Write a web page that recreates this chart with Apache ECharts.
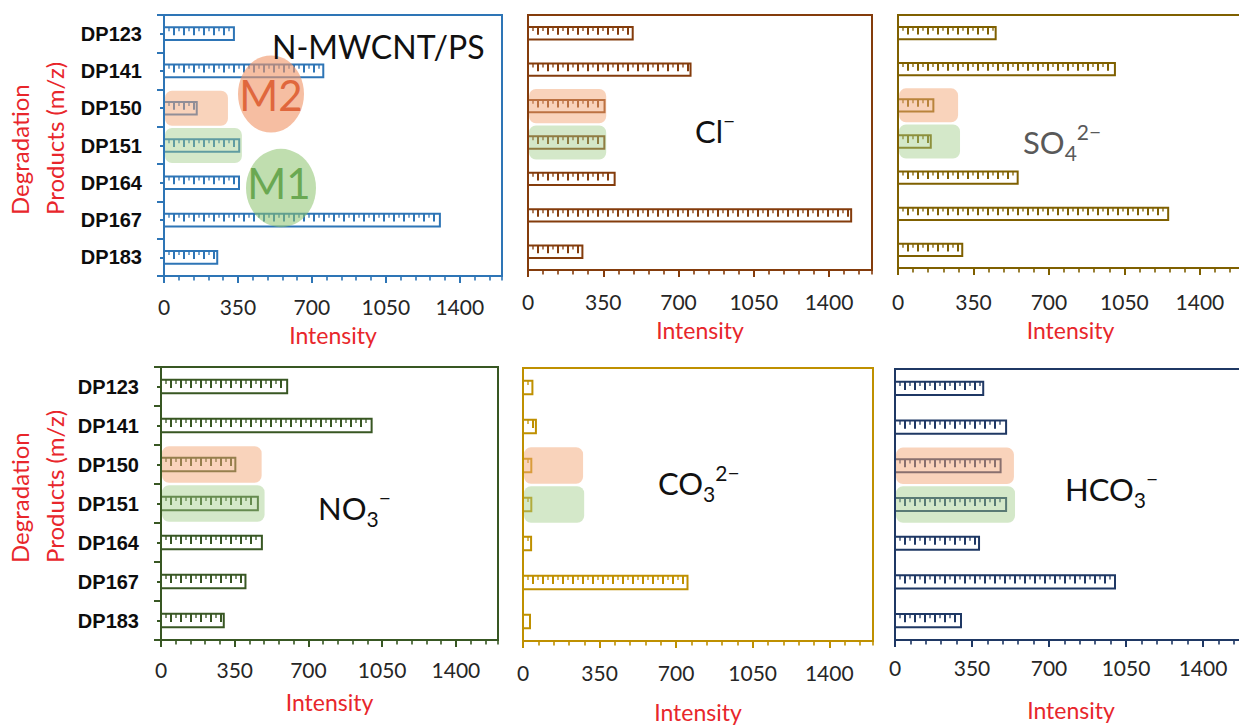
<!DOCTYPE html>
<html>
<head>
<meta charset="utf-8">
<title>Degradation products by anion</title>
<script src="https://cdn.jsdelivr.net/npm/echarts@6/dist/echarts.min.js"></script>
<style>
  html, body { margin: 0; padding: 0; background: #ffffff; }
  #chart { width: 1239px; height: 725px; }
</style>
</head>
<body>
<div id="chart"></div>
<script>
// Degradation products (m/z) and their intensities for each system
const categories = ['DP123', 'DP141', 'DP150', 'DP151', 'DP164', 'DP167', 'DP183'];
const intensityBase = [331, 754, 155, 356, 355, 1306, 252];   // N-MWCNT/PS
const intensityCl   = [487, 756, 356, 355, 403, 1503, 253];   // Cl-
const intensitySO4  = [453, 1006, 164, 152, 555, 1253, 298];  // SO4 2-
const intensityNO3  = [599, 1000, 353, 460, 479, 401, 298];   // NO3-
const intensityCO3  = [43, 59, 38, 38, 37, 752, 32];          // CO3 2-
const intensityHCO3 = [401, 505, 480, 505, 382, 1000, 300];   // HCO3-
const xTickLabels = [0, 350, 700, 1050, 1400];
const xMax = 1600;
// Pathway rows: M2 goes through DP150, M1 through DP151 (extent of the shaded band)
const m2Row = 'DP150';
const m1Row = 'DP151';
const m2Extent = [298, 359, 274, 473, 270, 536];
const m1Extent = [364, 359, 283, 487, 275, 541];

const TXT = 'Lato, "Open Sans", sans-serif';
const RED = '#e8262b';

const panels = [
  { values: intensityBase, color: '#2e75b6', grid: [164, 15, 338, 261], leftAxis: true,  labelMargin: 20, nameGap: 47 },
  { values: intensityCl,   color: '#843c0c', grid: [528, 15, 344, 255], leftAxis: false, labelMargin: 21, nameGap: 48 },
  { values: intensitySO4,  color: '#7f6000', grid: [898, 15, 345, 253], leftAxis: false, labelMargin: 23, nameGap: 50 },
  { values: intensityNO3,  color: '#385723', grid: [161, 367, 337, 273], leftAxis: true,  labelMargin: 19, nameGap: 50 },
  { values: intensityCO3,  color: '#bf9000', grid: [523, 368, 350, 273], leftAxis: false, labelMargin: 21, nameGap: 59 },
  { values: intensityHCO3, color: '#1f3864', grid: [895, 369, 352, 271], leftAxis: false, labelMargin: 17, nameGap: 58 }
];

// Hatched bar: white box with comb-like ticks hanging from its top edge
function barRenderer(color) {
  return function (params, api) {
    const cat = api.value(1);
    const start = api.coord([0, cat]);
    const end = api.coord([api.value(0), cat]);
    const h = api.size([0, 1])[1] * 0.34;
    const top = start[1] - h / 2;
    const children = [{
      type: 'rect',
      shape: { x: start[0], y: top, width: end[0] - start[0], height: h },
      style: { fill: '#ffffff', stroke: color, lineWidth: 2 }
    }];
    const step = 5;
    let k = 1;
    for (let x = start[0] + step; x < end[0] - 2; x += step, k++) {
      if (k % 2 === 0) {
        children.push({ type: 'line', shape: { x1: x, y1: top, x2: x, y2: top + h * 0.62 },
          style: { stroke: color, lineWidth: 2 } });
      } else {
        children.push({ type: 'line', shape: { x1: x, y1: top, x2: x, y2: top + h * 0.32 },
          style: { stroke: color, lineWidth: 1.3 } });
      }
    }
    return { type: 'group', children: children };
  };
}

// Translucent rounded band marking a pathway row
function bandRenderer(fill) {
  return function (params, api) {
    const cat = api.value(1);
    const start = api.coord([0, cat]);
    const end = api.coord([api.value(0), cat]);
    const band = api.size([0, 1])[1];
    return {
      type: 'rect',
      shape: { x: start[0] + 1, y: start[1] - band * 0.47, width: end[0] - start[0], height: band * 0.94, r: 7 },
      style: { fill: fill }
    };
  };
}

const grids = [], xAxes = [], yAxes = [], series = [];
panels.forEach(function (p, i) {
  grids.push({
    left: p.grid[0], top: p.grid[1], width: p.grid[2], height: p.grid[3],
    show: true, borderColor: p.color, borderWidth: 2, backgroundColor: 'transparent',
    containLabel: false, outerBoundsMode: 'none'
  });
  const lineStyle = { color: p.color, width: 2 };
  // major ticks + labels
  xAxes.push({
    gridIndex: i, type: 'value', position: 'bottom', min: 0, max: xMax, interval: 350,
    axisLine: { show: true, lineStyle: lineStyle },
    axisTick: { show: true, length: 7, lineStyle: lineStyle },
    axisLabel: {
      color: '#262626', fontFamily: TXT, fontSize: 21, margin: p.labelMargin,
      showMaxLabel: false,
      formatter: function (v) { return xTickLabels.indexOf(v) >= 0 ? String(v) : ''; }
    },
    splitLine: { show: false },
    name: 'Intensity', nameLocation: 'middle', nameGap: p.nameGap, nameMoveOverlap: false,
    nameTextStyle: { color: RED, fontFamily: TXT, fontSize: 23 }
  });
  // minor ticks
  xAxes.push({
    gridIndex: i, type: 'value', position: 'bottom', min: 0, max: xMax, interval: 70,
    axisLine: { show: false },
    axisTick: { show: true, length: 4.5, lineStyle: { color: p.color, width: 1.6 } },
    axisLabel: { show: false },
    splitLine: { show: false }
  });
  yAxes.push({
    gridIndex: i, type: 'category', data: categories, inverse: true, position: 'left',
    axisLine: { show: true, lineStyle: lineStyle },
    axisTick: { show: p.leftAxis, length: 7, lineStyle: lineStyle },
    axisLabel: {
      show: p.leftAxis, color: '#0d0d0d', fontFamily: '"Liberation Sans", Arial, sans-serif',
      fontWeight: 'bold', fontSize: 20, margin: 22
    },
    splitLine: { show: false }
  });
  yAxes.push({
    gridIndex: i, type: 'category', data: categories, inverse: true, position: 'left',
    axisLine: { show: false },
    axisTick: { show: p.leftAxis, alignWithLabel: true, length: 4, lineStyle: lineStyle },
    axisLabel: { show: false },
    splitLine: { show: false }
  });
  series.push({
    type: 'custom', name: 'bars' + i, xAxisIndex: 2 * i, yAxisIndex: 2 * i,
    renderItem: barRenderer(p.color), encode: { x: 0, y: 1 },
    data: p.values.map(function (v, k) { return [v, k]; }), z: 3, silent: true
  });
  series.push({
    type: 'custom', name: 'paths' + i, xAxisIndex: 2 * i, yAxisIndex: 2 * i,
    renderItem: function (params, api) {
      const fills = ['rgba(244,168,120,0.5)', 'rgba(160,205,135,0.45)'];
      return bandRenderer(fills[params.dataIndex])(params, api);
    },
    encode: { x: 0, y: 1 },
    data: [[m2Extent[i], categories.indexOf(m2Row)], [m1Extent[i], categories.indexOf(m1Row)]],
    z: 4, silent: true
  });
});

// Ion labels with sub/superscripts
function ionText(x, y, text, color) {
  return {
    type: 'text', x: x, y: y, z: 20,
    style: {
      text: text, fill: color || '#111111', align: 'left', verticalAlign: 'middle',
      font: '32px ' + TXT,
      rich: {
        b: { fontSize: 31, fontFamily: TXT, lineHeight: 42, verticalAlign: 'middle' },
        sub: { fontSize: 21, fontFamily: TXT, lineHeight: 21, verticalAlign: 'bottom' },
        sup: { fontSize: 21, fontFamily: TXT, lineHeight: 21, verticalAlign: 'top' }
      }
    }
  };
}

function axisTitle(x, y) {
  return {
    type: 'text', x: x, y: y, rotation: Math.PI / 2, z: 20,
    style: {
      text: 'Degradation\nProducts (m/z)', fill: RED, align: 'left', verticalAlign: 'top',
      font: '24px ' + TXT, lineHeight: 35
    }
  };
}

const graphics = [
  axisTitle(2, 215),
  axisTitle(2, 563),
  {
    type: 'text', x: 272, y: 46, z: 20,
    style: { text: 'N-MWCNT/PS', fill: '#111111', font: '32px ' + TXT, align: 'left', verticalAlign: 'middle' }
  },
  // pathway markers
  {
    type: 'circle', x: 271, y: 94, scaleY: 1.17, z: 15,
    shape: { cx: 0, cy: 0, r: 33 }, style: { fill: 'rgba(240,150,105,0.62)' }
  },
  {
    type: 'text', x: 271, y: 95, z: 16,
    style: { text: 'M2', fill: '#e0673d', font: '42px ' + TXT, align: 'center', verticalAlign: 'middle' }
  },
  {
    type: 'circle', x: 281, y: 188, scaleY: 1.12, z: 15,
    shape: { cx: 0, cy: 0, r: 35 }, style: { fill: 'rgba(140,195,110,0.55)' }
  },
  {
    type: 'text', x: 279, y: 183, z: 16,
    style: { text: 'M1', fill: '#6aa852', font: '42px ' + TXT, align: 'center', verticalAlign: 'middle' }
  },
  ionText(695, 131, '{b|Cl}{sup|−}'),
  ionText(1023, 142, '{b|SO}{sub|4}{sup|2−}', '#595959'),
  ionText(318, 508, '{b|NO}{sub|3}{sup|−}'),
  ionText(658, 483, '{b|CO}{sub|3}{sup|2−}'),
  ionText(1065, 489, '{b|HCO}{sub|3}{sup|−}')
];

const chart = echarts.init(document.getElementById('chart'), null, { renderer: 'svg', width: 1239, height: 725 });
chart.setOption({
  animation: false,
  backgroundColor: '#ffffff',
  grid: grids,
  xAxis: xAxes,
  yAxis: yAxes,
  series: series,
  graphic: graphics
});
</script>
</body>
</html>
